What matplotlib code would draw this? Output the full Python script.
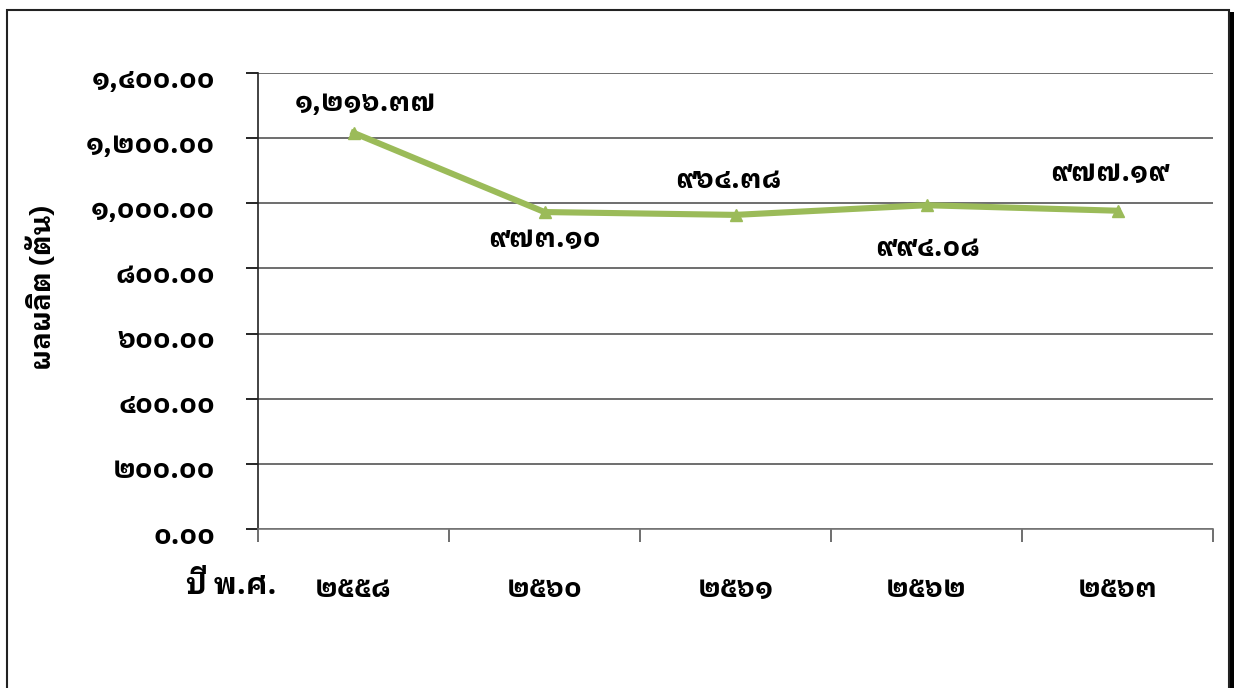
import matplotlib
matplotlib.use("Agg")
import matplotlib.pyplot as plt
import matplotlib.transforms as mtransforms
from matplotlib.patches import Rectangle

years = ["๒๕๕๘", "๒๕๖๐", "๒๕๖๑", "๒๕๖๒", "๒๕๖๓"]
values = [1216.37, 973.10, 964.38, 994.08, 977.19]
value_labels = ["๑,๒๑๖.๓๗", "๙๗๓.๑๐", "๙๖๔.๓๘", "๙๙๔.๐๘", "๙๗๗.๑๙"]
y_ticks = [0, 200, 400, 600, 800, 1000, 1200, 1400]
y_tick_labels = ["๐.๐๐", "๒๐๐.๐๐", "๔๐๐.๐๐", "๖๐๐.๐๐", "๘๐๐.๐๐",
                 "๑,๐๐๐.๐๐", "๑,๒๐๐.๐๐", "๑,๔๐๐.๐๐"]

# where each data label sits relative to its point (points)
label_offsets = [(9, 21), (0, -20), (-5, 25), (1, -31), (-6, 27)]

plt.rcParams["font.family"] = ["IBM Plex Sans Thai Looped", "DejaVu Sans"]
plt.rcParams["font.weight"] = "bold"

fig = plt.figure(figsize=(12.34, 6.88), dpi=100)
ax = fig.add_axes([258 / 1234, 1 - 529 / 688, (1213 - 258) / 1234, (529 - 73) / 688])

x = list(range(len(years)))
ax.plot(x, values, color="#9bbb59", linewidth=4.4, marker="^", markersize=9,
        markeredgecolor="#9bbb59", zorder=3)

for xi, v, lab, off in zip(x, values, value_labels, label_offsets):
    ax.annotate(lab, (xi, v), xytext=off, textcoords="offset points",
                ha="center", va="center", fontsize=20, fontweight="bold")

ax.set_xlim(-0.5, len(years) - 0.5)
ax.set_ylim(0, 1400)
ax.set_yticks(y_ticks)
ax.set_yticklabels(y_tick_labels, fontsize=20, fontweight="bold")
ax.set_xticks(x)
ax.set_xticklabels(years, fontsize=20, fontweight="bold")
ax.set_xticks([i - 0.5 for i in range(len(years) + 1)], minor=True)
ax.tick_params(axis="x", which="major", length=0, pad=34)
ax.tick_params(axis="x", which="minor", length=9, width=1.2, color="#555555", direction="out")
ax.tick_params(axis="y", length=9, width=1.2, pad=22, direction="out")
shift = mtransforms.ScaledTranslation(0, -4 / 100, fig.dpi_scale_trans)
for t in ax.get_yticklabels():
    t.set_transform(t.get_transform() + shift)

ax.grid(axis="y", color="#555555", linewidth=1.2)
ax.set_axisbelow(True)
ax.spines["top"].set_visible(False)
ax.spines["right"].set_visible(False)
ax.spines["left"].set_color("#222222")
ax.spines["left"].set_linewidth(1.2)
ax.spines["bottom"].set_color("#777777")
ax.spines["bottom"].set_linewidth(1.2)

fig.text(42 / 1234, 1 - 288 / 688, "ผลผลิต (ตัน)", rotation=90, ha="center", va="center",
         fontsize=20, fontweight="bold")
fig.text(231 / 1234, 1 - 585 / 688, "ปี พ.ศ.", ha="center", va="center",
         fontsize=21, fontweight="bold")

# chart frame with dark shadow on the right
fig.patches.append(Rectangle((7 / 1234, -0.05), (1229 - 7) / 1234, (688 - 10) / 688 + 0.05,
                             transform=fig.transFigure, fill=False, edgecolor="#222222",
                             linewidth=1.5))
fig.patches.append(Rectangle((1230 / 1234, -0.05), 5 / 1234, (688 - 12) / 688 + 0.05,
                             transform=fig.transFigure, facecolor="black", edgecolor="none"))

fig.savefig("out.png", dpi=100)
